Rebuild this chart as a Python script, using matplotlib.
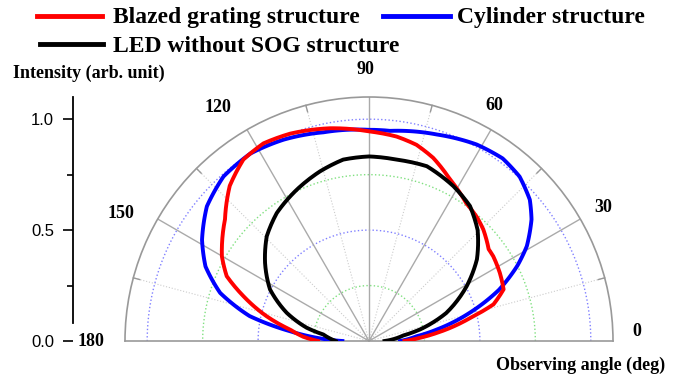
import numpy as np
import matplotlib.pyplot as plt
from matplotlib.lines import Line2D

# angular distribution (angle in deg, intensity in arb. unit)
cyl_deg = [0, 5.7, 9.6, 15.6, 21.5, 26.9, 31.0, 36.8, 41.3, 47.5, 53.8, 61.3, 71.8, 84.3, 90,
           102.3, 113, 122.3, 131.5, 140.3, 148.8, 155.5, 162.1, 168.2, 172.9, 176.5, 180]
cyl_r = [0.14, 0.216, 0.31, 0.47, 0.63, 0.75, 0.83, 0.915, 0.965, 1.005, 1.02, 1.01, 0.98, 0.952, 0.952,
         0.963, 0.986, 1.0, 0.99, 0.95, 0.88, 0.81, 0.705, 0.55, 0.36, 0.236, 0.12]

blz_deg = [0, 3.6, 6.9, 12.9, 16.4, 21.0, 27.5, 34.3, 37.5, 44.3, 48.8, 54.7, 63.4, 70.7, 76.4, 82.3, 90,
           100.4, 110.8, 118.1, 124.7, 131.9, 139.8, 150.1, 155.5, 160.4, 166.4, 171.7, 176.3, 180]
blz_r = [0.16, 0.23, 0.31, 0.47, 0.585, 0.65, 0.665, 0.678, 0.68, 0.72, 0.74, 0.76, 0.815, 0.875, 0.91, 0.93, 0.945,
         0.975, 1.0, 1.01, 0.995, 0.94, 0.85, 0.765, 0.705, 0.60, 0.475, 0.36, 0.297, 0.23]

led_deg = [0, 9.1, 12.7, 19.9, 29.3, 37.1, 45.6, 53.2, 61.4, 71.7, 81.3, 90,
           98.1, 106.1, 115.5, 125.8, 134.3, 143.1, 152.5, 161.1, 168, 171.9, 180]
led_r = [0.07, 0.156, 0.235, 0.37, 0.505, 0.61, 0.70, 0.76, 0.795, 0.83, 0.827, 0.832,
         0.826, 0.796, 0.756, 0.711, 0.66, 0.586, 0.503, 0.392, 0.287, 0.208, 0.15]

names = ['Blazed grating structure', 'Cylinder structure', 'LED without SOG structure']
colors = ['#ff0000', '#0000ff', '#000000']

angle_labels = ['0', '30', '60', '90', '120', '150', '180']
r_ticks = [0.0, 0.5, 1.0]

serif = {'family': ['Liberation Serif', 'DejaVu Serif'], 'weight': 'bold'}

W, H = 677, 380
fig = plt.figure(figsize=(W / 100, H / 100), dpi=100)

# centre of the half circle and outer radius (r = 1.1) in pixels
cx, cy, R = 369, 341, 244
# half polar axes: wedge box is squared, so the centre sits at 1/4 of the box height
ax = fig.add_axes([(cx - R) / W, (H - cy - R / 2) / H, 2 * R / W, 2 * R / H], projection='polar')
ax.set_thetamin(0)
ax.set_thetamax(180)
ax.set_ylim(0, 1.1)
ax.set_rticks([])
ax.set_thetagrids([30, 60, 90, 120, 150], labels=[''] * 5)
ax.xaxis.grid(True, color='#aaaaaa', lw=1, ls='-')
ax.tick_params(axis='x', length=0)
for s in ax.spines.values():
    s.set_color('#999999')
    s.set_linewidth(1.2)

# dotted circles
arc = np.linspace(0, np.pi, 300)
for rr, c in [(0.25, '#80e080'), (0.5, '#8080ff'), (0.75, '#80e080'), (1.0, '#8080ff')]:
    ax.plot(arc, np.full_like(arc, rr), ls=':', lw=1, color=c, zorder=1)

# light dotted radial lines and small ticks on the rim
for a in [15, 45, 75, 105, 135, 165]:
    t = np.deg2rad(a)
    ax.plot([t, t], [0, 1.1], ls=':', lw=0.8, color='#cccccc', zorder=1)
    ax.plot([t, t], [1.07, 1.1], ls='-', lw=1, color='#999999', clip_on=False, zorder=1)

curves = [(cyl_deg, cyl_r, colors[1], 3), (blz_deg, blz_r, colors[0], 4), (led_deg, led_r, colors[2], 5)]
for deg, r, c, z in curves:
    ln, = ax.plot(np.deg2rad(deg), r, color=c, lw=2.8, zorder=z, solid_joinstyle='round')
    # follow the polar grid between points instead of straight chords
    ln.get_path()._interpolation_steps = 12

# angle labels around the rim
label_px = [(637, 332), (603, 207), (494, 106), (365, 69), (218, 108), (121, 213), (91, 341)]
for txt, (x, y) in zip(angle_labels, label_px):
    fig.text(x / W, 1 - y / H, txt, ha='center', va='center', fontsize=13, **serif)

# separate intensity scale on the left
lax = fig.add_axes([73 / W, (H - cy) / H, 0.05, R / H])
lax.set_facecolor('none')
lax.set_ylim(0, 1.1)
lax.set_xticks([])
for k in ['top', 'right', 'bottom']:
    lax.spines[k].set_visible(False)
lax.spines['left'].set_bounds(0.08, 1.1)
lax.spines['left'].set_linewidth(1.3)
lax.set_yticks(r_ticks)
lax.set_yticklabels(['%.1f' % v for v in r_ticks], family=['Liberation Sans', 'DejaVu Sans'])
lax.set_yticks([0.25, 0.75], minor=True)
lax.tick_params(axis='y', which='major', length=7.5, width=1.2, pad=6, labelsize=12)
lax.tick_params(axis='y', which='minor', length=4, width=1.2)

fig.text(13 / W, 1 - 73 / H, 'Intensity (arb. unit)', ha='left', va='center', fontsize=13, **serif)
fig.text(665 / W, 1 - 365 / H, 'Observing angle (deg)', ha='right', va='center', fontsize=13, **serif)

# legend drawn by hand: two entries on the first row, one on the second
legend_px = [(37, 102, 16, 113, 23.5), (383, 450, 16, 457, 23.5), (40, 103, 44, 113, 52)]
for name, c, (x0, x1, ly, tx, ty) in zip(names, colors, legend_px):
    fig.add_artist(Line2D([x0 / W, x1 / W], [1 - ly / H] * 2, transform=fig.transFigure,
                          color=c, lw=3.5))
    fig.text(tx / W, 1 - ty / H, name, ha='left', va='baseline', fontsize=17, **serif)

fig.savefig('out.png', dpi=100)
